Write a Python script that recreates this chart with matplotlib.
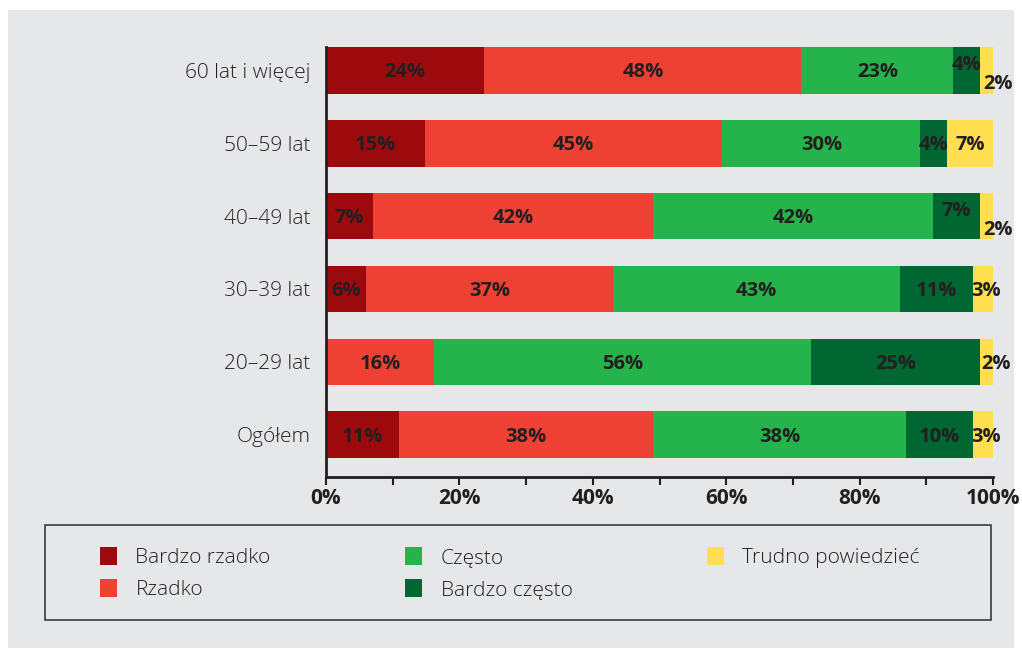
import numpy as np
import matplotlib
matplotlib.use('Agg')
import matplotlib.pyplot as plt
from matplotlib.patches import Rectangle

plt.rcParams['font.family'] = ['Open Sans', 'DejaVu Sans']

# data (bottom -> top)
groups = ['Ogółem', '20–29 lat', '30–39 lat', '40–49 lat', '50–59 lat', '60 lat i więcej']
bardzo_rzadko = [11, 0, 6, 7, 15, 24]
rzadko = [38, 16, 37, 42, 45, 48]
czesto = [38, 56, 43, 42, 30, 23]
bardzo_czesto = [10, 25, 11, 7, 4, 4]
trudno = [3, 2, 3, 2, 7, 2]

series_names = ['Bardzo rzadko', 'Rzadko', 'Często', 'Bardzo często', 'Trudno powiedzieć']
colors = ['#9d0a0e', '#ef4133', '#25b34b', '#006632', '#ffde4f']
xticks = [0, 20, 40, 60, 80, 100]

txt = '#231f20'
bg = '#e6e7e8'

vals = np.array([bardzo_rzadko, rzadko, czesto, bardzo_czesto, trudno], dtype=float)
# shares drawn normalised to 100 (rounded labels don't always sum to 100)
widths = vals / vals.sum(axis=0) * 100

# small label nudges in pixels (dx, dy)
nudge = {(5, 3): (0, 5), (5, 4): (12, -14),
         (3, 3): (0, 5), (3, 4): (12, -14),
         (1, 4): (10, -2), (2, 4): (3, -2), (0, 4): (3, -2)}

fig = plt.figure(figsize=(10.22, 6.51), dpi=100, facecolor='white')
fig.patches.append(Rectangle((8/1022, 3/651), 1006/1022, 638/651,
                             transform=fig.transFigure, facecolor=bg,
                             edgecolor='none', zorder=-10))

ax = fig.add_axes([326/1022, 1 - 477/651, 667/1022, 430/651])
ax.set_facecolor('none')
ax.set_zorder(2)

y = np.arange(len(groups))
left = np.zeros(len(groups))
handles = []
for i, name in enumerate(series_names):
    bars = ax.barh(y, widths[i], left=left, height=0.64, color=colors[i],
                   edgecolor='none', label=name)
    handles.append(bars)
    for j in range(len(groups)):
        if vals[i, j] == 0:
            continue
        dx, dy = nudge.get((j, i), (0, -2))
        ax.annotate('{:.0f}%'.format(vals[i, j]),
                    (left[j] + widths[i, j] / 2, y[j]),
                    xytext=(dx * 0.72, dy * 0.72), textcoords='offset points',
                    ha='center', va='center', fontsize=14.5, fontweight='bold',
                    color=txt, annotation_clip=False)
    left += widths[i]

ax.set_xlim(0, 100)
ax.set_ylim(-0.58, len(groups) - 1 + 0.32)
ax.set_yticks(y)
ax.set_yticklabels(groups, fontsize=15, color=txt, fontweight='light')
ax.tick_params(axis='y', length=0, pad=11)
ax.set_xticks(xticks)
ax.set_xticklabels(['{}%'.format(t) for t in xticks], fontsize=15,
                   fontweight='bold', color=txt)
ax.set_xticks(np.arange(10, 100, 20), minor=True)
ax.tick_params(axis='x', which='both', direction='out', length=6, width=1.5,
               color=txt, pad=2)

for s in ['top', 'right']:
    ax.spines[s].set_visible(False)
for s in ['left', 'bottom']:
    ax.spines[s].set_color(txt)
    ax.spines[s].set_linewidth(2)

# legend box
fig.patches.append(Rectangle((45/1022, 1 - 620/651), 946/1022, 95/651,
                             transform=fig.transFigure, facecolor='none',
                             edgecolor='#3a3a3a', linewidth=1.2, zorder=1))
fig.legend(handles=handles, labels=series_names, ncol=3, frameon=False,
           loc='lower left', mode='expand',
           bbox_to_anchor=(100/1022, 1 - 600/651, 820/1022, 66/651),
           prop={'size': 15, 'weight': 'light'},
           handlelength=0.8, handleheight=1.0, handletextpad=0.9,
           labelspacing=0.5, borderpad=0, borderaxespad=0,
           labelcolor=txt)

plt.savefig('out.png', dpi=100, facecolor='white')
